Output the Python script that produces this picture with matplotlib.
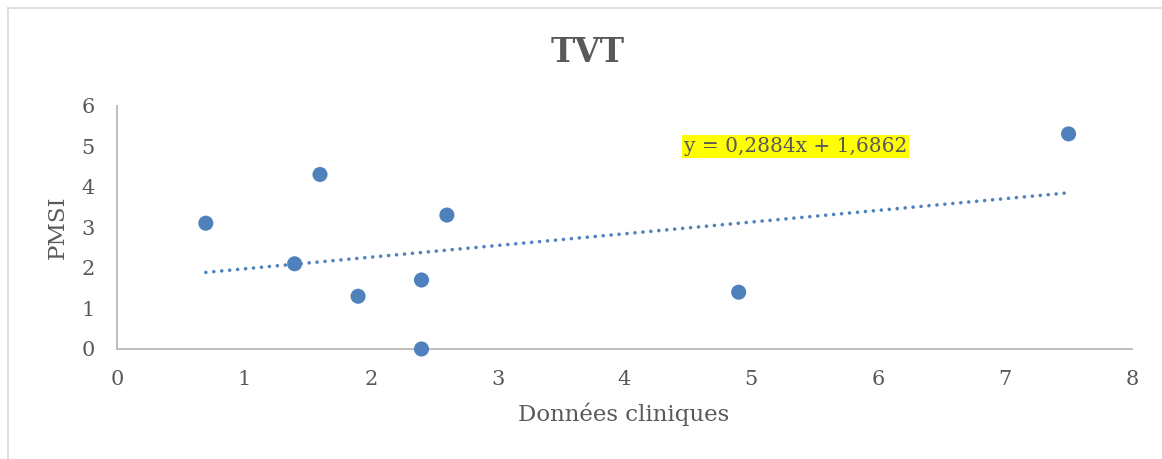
import matplotlib
matplotlib.use("Agg")
import matplotlib.pyplot as plt
from matplotlib.lines import Line2D
import numpy as np

# Data
x_clin = [0.7, 1.4, 1.6, 1.9, 2.4, 2.4, 2.6, 4.9, 7.5]
y_pmsi = [3.1, 2.1, 4.3, 1.3, 1.7, 0.0, 3.3, 1.4, 5.3]
x_ticks = [0, 1, 2, 3, 4, 5, 6, 7, 8]
y_ticks = [0, 1, 2, 3, 4, 5, 6]
title = "TVT"
x_label = "Données cliniques"
y_label = "PMSI"
eq_text = "y = 0,2884x + 1,6862"

plt.rcParams['font.family'] = ['DejaVu Serif']
txt_col = '#595959'
pt_col = '#4F81BD'

fig = plt.figure(figsize=(11.62, 4.59), dpi=100)
ax = fig.add_axes([117/1162, 1-349/459, (1132-117)/1162, (349-105.5)/459])

# trendline
slope, intercept = np.polyfit(x_clin, y_pmsi, 1)
xs = np.array([min(x_clin), max(x_clin)])
ax.plot(xs, slope*xs + intercept, color=pt_col, lw=2.6,
        dashes=(0.01, 2.2), dash_capstyle='round', zorder=2)

ax.scatter(x_clin, y_pmsi, s=118, color=pt_col, edgecolors='none', zorder=3, clip_on=False)

ax.set_xlim(0, 8)
ax.set_ylim(0, 6)
ax.set_xticks(x_ticks)
ax.set_yticks(y_ticks)
ax.tick_params(axis='x', length=0, pad=15, labelsize=15, labelcolor=txt_col)
ax.tick_params(axis='y', length=0, pad=16, labelsize=15, labelcolor=txt_col)
for s in ['top', 'right']:
    ax.spines[s].set_visible(False)
for s in ['left', 'bottom']:
    ax.spines[s].set_color('#BFBFBF')
    ax.spines[s].set_linewidth(1.4)

ax.text(4.47, 5.0, eq_text, fontsize=14.5, color=txt_col, va='center', ha='left',
        bbox=dict(facecolor='#FFFF00', edgecolor='none', pad=1.5))

fig.text(588/1162, 1-52/459, title, ha='center', va='center', fontsize=23.5,
         fontweight='bold', color=txt_col)
fig.text(624/1162, 1-421/459, x_label, ha='center', va='baseline', fontsize=16.5, color=txt_col)
fig.text(58/1162, 1-227/459, y_label, ha='center', va='center', fontsize=16.5,
         color=txt_col, rotation=90)

# chart border (top & left visible)
fig.add_artist(Line2D([8/1162, 8/1162], [0, 1-8/459], transform=fig.transFigure,
                      color='#D9D9D9', lw=1.2))
fig.add_artist(Line2D([8/1162, 1], [1-8/459, 1-8/459], transform=fig.transFigure,
                      color='#D9D9D9', lw=1.2))

fig.savefig('out.png', dpi=100)
